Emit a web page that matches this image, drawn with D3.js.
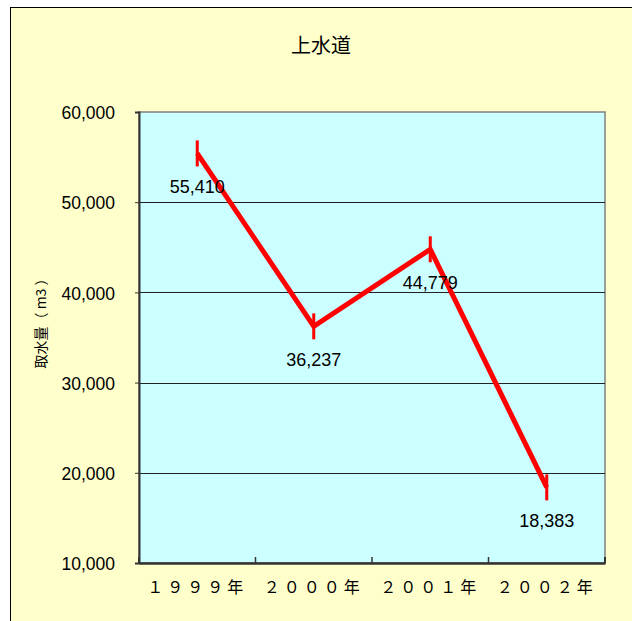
<!DOCTYPE html>
<html><head><meta charset="utf-8">
<script src="https://cdn.jsdelivr.net/npm/d3@7"></script>
<style>html,body{margin:0;padding:0;background:#fff;}svg{display:block;}</style>
</head><body>
<svg id="c" width="632" height="621"></svg>
<script>
const title = "上水道";
const yTitle = "取水量（ m3 ）";
const categories = ["１９９９年", "２０００年", "２００１年", "２００２年"];
const values = [55410, 36237, 44779, 18383];
const yTicks = [10000, 20000, 30000, 40000, 50000, 60000];

const svg = d3.select("#c");
svg.append("rect").attr("x", 10.5).attr("y", 7.5).attr("width", 640).attr("height", 640)
  .attr("fill", "#FFFFCC").attr("stroke", "#000").attr("stroke-width", 1);

const L = 139, R = 605, T = 112, B = 563;
const x = d3.scaleBand().domain(categories).range([L, R]);
const y = d3.scaleLinear().domain([10000, 60000]).range([B, T]);

svg.append("rect").attr("x", L).attr("y", T).attr("width", R - L).attr("height", B - T)
  .attr("fill", "#CCFFFF").attr("stroke", "#808080").attr("stroke-width", 1.5);

// gridlines
svg.append("g").selectAll("line").data(yTicks.filter(d => d > 10000 && d < 60000)).join("line")
  .attr("x1", L).attr("x2", R).attr("y1", d => Math.round(y(d)) + 0.5).attr("y2", d => Math.round(y(d)) + 0.5)
  .attr("stroke", "#222").attr("stroke-width", 1);

// y axis
const yAxis = svg.append("g").attr("transform", `translate(${L},0)`)
  .call(d3.axisLeft(y).tickValues(yTicks).tickSize(4).tickPadding(20).tickFormat(d3.format(",")));
yAxis.select(".domain").attr("stroke", "#333").attr("stroke-width", 2);
yAxis.selectAll(".tick line").attr("stroke", "#333");
yAxis.selectAll("text").attr("font-family", "Liberation Sans, Arial, sans-serif").attr("font-size", 17.5)
  .attr("fill", "#000").attr("dy", "0.38em");

// x axis
const xAxis = svg.append("g").attr("transform", `translate(0,${B})`)
  .call(d3.axisBottom(x).tickSize(0).tickPadding(20));
xAxis.select(".domain").attr("stroke", "#333").attr("stroke-width", 2.5);
xAxis.selectAll("text").attr("font-family", "Noto Sans CJK JP, sans-serif").attr("font-size", 16)
  .attr("letter-spacing", 4).attr("fill", "#000").attr("dy", "0.6em");
// boundary ticks pointing inward
svg.append("g").selectAll("line").data(categories.slice(1)).join("line")
  .attr("x1", d => x(d)).attr("x2", d => x(d)).attr("y1", B).attr("y2", B - 6)
  .attr("stroke", "#333").attr("stroke-width", 1.5);
svg.append("g").selectAll("line").data([L, R]).join("line")
  .attr("x1", d => d).attr("x2", d => d).attr("y1", B).attr("y2", B - 6)
  .attr("stroke", "#333").attr("stroke-width", 2);

// line
const cx = d => x(d) + x.bandwidth() / 2;
const line = d3.line().x((d, i) => cx(categories[i])).y(d => y(d));
svg.append("path").datum(values).attr("d", line).attr("fill", "none")
  .attr("stroke", "#FF0000").attr("stroke-width", 5).attr("stroke-linejoin", "miter");
svg.append("g").selectAll("line").data(values).join("line")
  .attr("x1", (d, i) => cx(categories[i])).attr("x2", (d, i) => cx(categories[i]))
  .attr("y1", d => y(d) - 13).attr("y2", d => y(d) + 13)
  .attr("stroke", "#FF0000").attr("stroke-width", 3);

// data labels
svg.append("g").selectAll("text").data(values).join("text")
  .attr("x", (d, i) => cx(categories[i])).attr("y", d => y(d) + 40)
  .attr("text-anchor", "middle").attr("font-family", "Liberation Sans, Arial, sans-serif")
  .attr("font-size", 18).attr("fill", "#000").text(d => d3.format(",")(d));

// title
svg.append("text").attr("x", 321).attr("y", 53).attr("text-anchor", "middle")
  .attr("font-family", "Noto Sans CJK JP, sans-serif").attr("font-size", 20).attr("fill", "#000").text(title);

// y title
svg.append("text").attr("transform", `translate(46,320) rotate(-90)`).attr("text-anchor", "middle")
  .attr("font-family", "Noto Sans CJK JP, sans-serif").attr("font-size", 14).attr("fill", "#000").text(yTitle);
</script>
</body></html>
